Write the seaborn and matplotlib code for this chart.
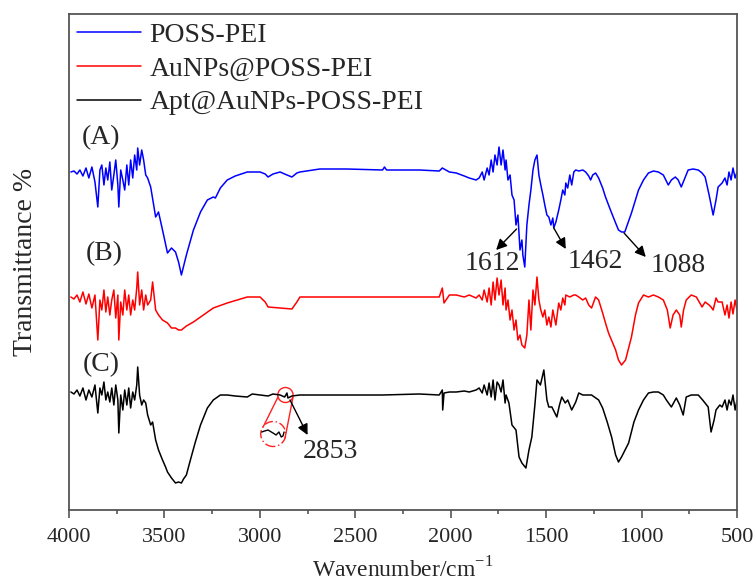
import numpy as np
import pandas as pd
import matplotlib
matplotlib.use("Agg")
import matplotlib.pyplot as plt
from matplotlib.patches import Ellipse
import seaborn as sns

# ---------------- data (arbitrary transmittance units) -------------
wn_A = [3990, 3974, 3958, 3943, 3927, 3911, 3896, 3880, 3864, 3849, 3838, 3828, 3817, 3807, 3797,
        3786, 3776, 3765, 3755, 3744, 3739, 3729, 3718, 3708, 3697, 3687, 3677, 3666, 3656, 3645,
        3640, 3630, 3619, 3609, 3598, 3588, 3572, 3546, 3531, 3510, 3484, 3463, 3442, 3426, 3411,
        3385, 3348, 3311, 3275, 3244, 3233, 3207, 3171, 3129, 3066, 2999, 2972, 2957, 2931, 2894,
        2858, 2832, 2806, 2790, 2686, 2545, 2357, 2347, 2336, 2164, 2060, 2044, 2007, 1971, 1929,
        1903, 1867, 1851, 1835, 1825, 1809, 1799, 1788, 1778, 1768, 1757, 1747, 1736, 1726, 1715,
        1710, 1700, 1689, 1679, 1668, 1658, 1648, 1637, 1627, 1622, 1612, 1601, 1590, 1580, 1569,
        1559, 1548, 1538, 1528, 1517, 1507, 1496, 1486, 1475, 1465, 1460, 1449, 1434, 1423, 1413,
        1402, 1397, 1387, 1376, 1366, 1355, 1345, 1329, 1308, 1293, 1277, 1267, 1256, 1241, 1225,
        1204, 1189, 1163, 1136, 1121, 1105, 1088, 1053, 1032, 1016, 990, 964, 938, 912, 886,
        860, 844, 823, 808, 792, 777, 756, 730, 703, 683, 667, 646, 625, 610, 599,
        578, 563, 552, 542, 531, 521, 510, 500]
T_A = [428, 429, 426, 430, 424, 432, 422, 433, 418, 393, 430, 435, 415, 432, 420,
       438, 410, 425, 440, 415, 393, 430, 420, 410, 435, 415, 440, 422, 445, 430,
       452, 435, 450, 440, 425, 422, 413, 383, 388, 370, 347, 352, 348, 338, 325,
       345, 370, 388, 400, 403, 402, 412, 420, 424, 428, 428, 426, 423, 426, 428,
       425, 423, 427, 428, 431, 431, 430, 433, 430, 430, 429, 432, 428, 427, 424,
       422, 420, 422, 428, 420, 432, 425, 440, 428, 445, 435, 453, 435, 450, 430,
       440, 420, 425, 405, 400, 375, 385, 350, 360, 345, 333, 375, 395, 410, 430,
       440, 445, 425, 415, 405, 395, 385, 383, 375, 382, 372, 378, 390, 400, 410,
       405, 417, 412, 425, 415, 428, 430, 429, 430, 428, 424, 420, 425, 427, 422,
       412, 403, 390, 377, 370, 368, 368, 387, 400, 410, 420, 427, 429, 428, 425,
       415, 420, 423, 420, 413, 420, 430, 431, 430, 427, 423, 405, 385, 400, 413,
       417, 422, 415, 428, 420, 432, 422, 428]

wn_B = [3990, 3974, 3958, 3943, 3927, 3911, 3896, 3880, 3864, 3849, 3838, 3828, 3817, 3807, 3797,
        3786, 3776, 3765, 3755, 3744, 3739, 3729, 3718, 3708, 3697, 3687, 3677, 3666, 3656, 3645,
        3640, 3630, 3619, 3609, 3598, 3588, 3572, 3562, 3546, 3531, 3510, 3484, 3463, 3442, 3426,
        3411, 3385, 3348, 3311, 3244, 3171, 3066, 2999, 2972, 2957, 2894, 2832, 2806, 2790, 2686,
        2545, 2357, 2164, 2060, 2044, 2035, 2007, 1971, 1929, 1903, 1867, 1851, 1835, 1825, 1809,
        1799, 1788, 1778, 1768, 1757, 1747, 1736, 1726, 1715, 1710, 1700, 1689, 1679, 1668, 1658,
        1648, 1637, 1627, 1612, 1601, 1590, 1580, 1569, 1559, 1548, 1538, 1528, 1517, 1507, 1496,
        1486, 1475, 1465, 1449, 1434, 1423, 1413, 1402, 1397, 1376, 1355, 1345, 1329, 1308, 1293,
        1277, 1262, 1241, 1225, 1204, 1189, 1173, 1136, 1121, 1105, 1084, 1053, 1032, 1016, 990,
        964, 938, 912, 886, 865, 850, 835, 818, 800, 792, 780, 766, 740, 713, 683,
        667, 646, 636, 625, 610, 599, 578, 563, 552, 542, 531, 521, 510, 500]
T_B = [303, 301, 305, 298, 308, 296, 306, 292, 305, 260, 300, 290, 310, 288, 303,
       285, 300, 310, 282, 305, 260, 298, 285, 310, 290, 305, 285, 300, 290, 312,
       328, 295, 310, 290, 305, 295, 300, 318, 290, 285, 280, 277, 272, 272, 270,
       270, 274, 278, 283, 292, 297, 303, 303, 298, 293, 292, 291, 298, 303, 303,
       303, 303, 303, 303, 312, 297, 305, 305, 303, 305, 302, 305, 300, 310, 298,
       312, 295, 318, 300, 322, 305, 320, 295, 312, 290, 300, 280, 290, 270, 280,
       260, 265, 255, 252, 265, 300, 270, 310, 295, 323, 300, 290, 283, 290, 275,
       283, 273, 290, 275, 297, 290, 302, 295, 305, 303, 305, 305, 303, 300, 302,
       295, 292, 303, 300, 287, 277, 267, 250, 240, 235, 240, 263, 285, 297, 305,
       303, 305, 303, 300, 290, 272, 285, 290, 285, 273, 290, 300, 305, 303, 293,
       298, 295, 293, 290, 302, 298, 298, 285, 295, 282, 298, 286, 300, 290]

wn_C = [3990, 3974, 3958, 3943, 3927, 3911, 3896, 3880, 3864, 3849, 3838, 3828, 3817, 3807, 3797,
        3786, 3776, 3765, 3755, 3744, 3739, 3729, 3718, 3708, 3697, 3687, 3677, 3666, 3656, 3645,
        3640, 3630, 3619, 3609, 3598, 3588, 3572, 3562, 3546, 3531, 3510, 3494, 3484, 3463, 3442,
        3426, 3411, 3400, 3385, 3364, 3338, 3311, 3275, 3244, 3207, 3171, 3129, 3066, 3040, 2999,
        2957, 2931, 2894, 2870, 2858, 2853, 2832, 2790, 2686, 2545, 2357, 2164, 2060, 2044, 2042,
        2035, 2007, 1971, 1929, 1903, 1867, 1851, 1835, 1825, 1809, 1799, 1788, 1778, 1768, 1757,
        1747, 1736, 1726, 1715, 1710, 1695, 1679, 1658, 1642, 1627, 1606, 1590, 1575, 1559, 1548,
        1530, 1512, 1496, 1486, 1470, 1444, 1430, 1418, 1400, 1387, 1366, 1345, 1329, 1308, 1293,
        1262, 1225, 1204, 1180, 1157, 1136, 1121, 1105, 1068, 1040, 1016, 990, 964, 938, 912,
        886, 870, 844, 818, 800, 782, 766, 740, 703, 680, 651, 636, 620, 610, 590,
        578, 563, 552, 542, 531, 521, 510, 500]
T_C = [208, 206, 210, 204, 212, 200, 210, 203, 215, 187, 212, 205, 218, 200, 208,
       198, 212, 195, 215, 200, 167, 205, 190, 210, 195, 212, 192, 208, 200, 215,
       233, 205, 195, 200, 197, 185, 175, 178, 160, 150, 140, 133, 128, 122, 117,
       118, 117, 121, 125, 140, 158, 175, 192, 200, 205, 205, 204, 203, 206, 205,
       204, 206, 205, 203, 207, 202, 204, 205, 205, 205, 205, 206, 205, 210, 190,
       207, 208, 208, 209, 208, 210, 212, 207, 215, 205, 217, 203, 220, 200, 218,
       215, 208, 220, 197, 205, 197, 175, 170, 143, 137, 132, 150, 163, 195, 220,
       215, 230, 200, 193, 193, 183, 195, 203, 197, 200, 190, 198, 207, 205, 205,
       205, 200, 192, 178, 163, 145, 138, 143, 157, 178, 190, 200, 207, 208, 208,
       205, 200, 193, 202, 195, 185, 203, 205, 205, 200, 193, 168, 180, 190, 195,
       193, 200, 190, 200, 195, 205, 190, 200]

samples = ["POSS-PEI", "AuNPs@POSS-PEI", "Apt@AuNPs-POSS-PEI"]
colors = ["#0000ff", "#ff0000", "#000000"]
panel_labels = ["(A)", "(B)", "(C)"]
panel_pos = [(3830, 462), (3815, 346), (3833, 235)]

peak_labels = ["1612", "1462", "1088", "2853"]
peak_arrow_start = [(1655, 371), (1460, 372), (1092, 367), (2842, 200)]
peak_arrow_end = [(1762, 350), (1397, 351), (978, 343), (2750, 165)]
peak_text_pos = [(1780, 337), (1245, 338), (810, 334), (2630, 149)]

# magnified inset of the 2853 region (annotation)
zoom_small = (2866, 205)
zoom_big = (2930, 166)
wiggle_wn = [2990, 2975, 2957, 2940, 2931, 2915, 2900, 2888, 2879, 2873]
wiggle_T = [168, 169, 170, 168, 167, 165, 168, 163, 164, 168]

xticks = [4000, 3500, 3000, 2500, 2000, 1500, 1000, 500]

# ---------------- build tidy frame ----------------
frames = []
for name, w, t in zip(samples, [wn_A, wn_B, wn_C], [T_A, T_B, T_C]):
    frames.append(pd.DataFrame({"Wavenumber": w, "T": t, "Sample": name}))
df = pd.concat(frames, ignore_index=True)

sns.set_theme(style="ticks")
plt.rcParams["font.family"] = ["Liberation Serif", "DejaVu Serif"]
plt.rcParams["mathtext.fontset"] = "custom"
plt.rcParams["mathtext.rm"] = "Liberation Serif"

fig = plt.figure(figsize=(7.55, 5.81), dpi=100)
ax = fig.add_axes([69 / 755, 71 / 581, (737 - 69) / 755, (510 - 14) / 581])

sns.lineplot(data=df, x="Wavenumber", y="T", hue="Sample", hue_order=samples,
             palette=colors, estimator=None, linewidth=1.1, ax=ax)

ax.set_xlim(4000, 500)
ax.set_ylim(90, 586)
ax.set_xticks(xticks)
ax.set_xticks([3750, 3250, 2750, 2250, 1750, 1250, 750], minor=True)
ax.set_yticks([])
ax.tick_params(axis="x", which="major", direction="out", length=6, width=1.2,
               color="#555555", labelsize=16, pad=7)
ax.tick_params(axis="x", which="minor", direction="out", length=3, width=1.2,
               color="#555555")
for s in ax.spines.values():
    s.set_visible(True)
    s.set_color("#555555")
    s.set_linewidth(1.3)

ax.set_xlabel("Wavenumber/cm$^{-1}$", fontsize=17, labelpad=7)
ax.set_ylabel("Transmittance %", fontsize=20, labelpad=22)

sns.move_legend(ax, "upper left", title=None, frameon=False, fontsize=20,
                handlelength=2.3, handletextpad=0.3, labelspacing=0.3,
                borderaxespad=0.15, borderpad=0.15)
for line in ax.get_legend().get_lines():
    line.set_linewidth(1.1)

for lab, (x, y) in zip(panel_labels, panel_pos):
    ax.text(x, y, lab, fontsize=20, ha="center", va="center")

for lab, s, e, tp in zip(peak_labels, peak_arrow_start, peak_arrow_end, peak_text_pos):
    ax.annotate("", xy=e, xytext=s,
                arrowprops=dict(arrowstyle="-|>", color="black", lw=1.0,
                                mutation_scale=16, shrinkA=0, shrinkB=0))
    ax.text(tp[0], tp[1], lab, fontsize=20, ha="center", va="center")

# magnifier circles and connecting lines
ax.add_patch(Ellipse(zoom_small, 80, 15, fill=False, edgecolor="#ff2020", lw=1.0))
ax.add_patch(Ellipse(zoom_big, 131, 25, fill=False, edgecolor="#ff2020", lw=1.0,
                     linestyle=(0, (6, 2, 1, 2))))
ax.plot([2905, 2983], [203, 173], color="#ff2020", lw=1.0)
ax.plot([2826, 2868], [203, 162], color="#ff2020", lw=1.0)
ax.plot(wiggle_wn, wiggle_T, color="black", lw=1.0)

fig.savefig("out.png", dpi=100)
